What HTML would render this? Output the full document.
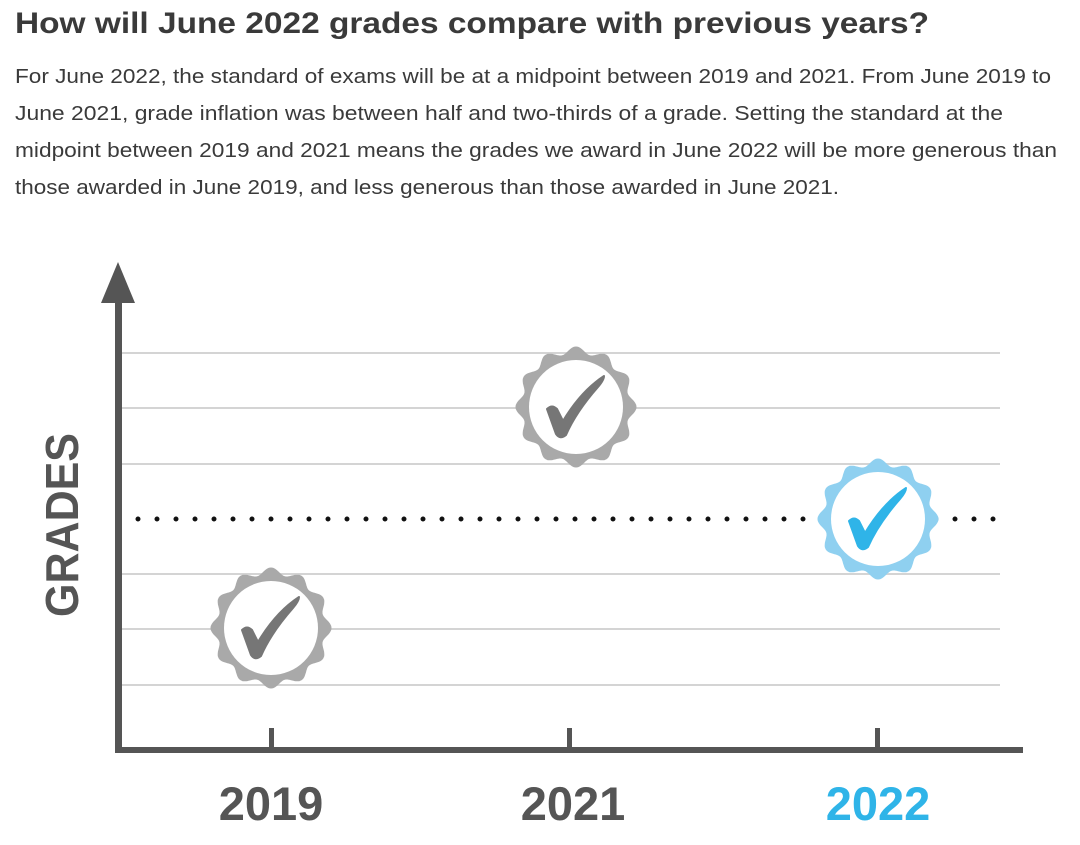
<!DOCTYPE html>
<html><head><meta charset="utf-8"><style>
html,body{margin:0;padding:0;background:#fff;width:1080px;height:845px;overflow:hidden}
svg{display:block}
</style></head><body>
<svg id="s" width="1080" height="845" xmlns="http://www.w3.org/2000/svg" font-family="Liberation Sans, sans-serif">
<text x="15" y="33" font-size="30" font-weight="bold" fill="#3a3a3a" textLength="914" lengthAdjust="spacingAndGlyphs">How will June 2022 grades compare with previous years?</text>
<g font-size="20" fill="#3a3a3a">
<text x="15" y="83" textLength="1036" lengthAdjust="spacingAndGlyphs">For June 2022, the standard of exams will be at a midpoint between 2019 and 2021. From June 2019 to</text>
<text x="15" y="120" textLength="988" lengthAdjust="spacingAndGlyphs">June 2021, grade inflation was between half and two-thirds of a grade. Setting the standard at the</text>
<text x="15" y="157" textLength="1042" lengthAdjust="spacingAndGlyphs">midpoint between 2019 and 2021 means the grades we award in June 2022 will be more generous than</text>
<text x="15" y="194" textLength="824" lengthAdjust="spacingAndGlyphs">those awarded in June 2019, and less generous than those awarded in June 2021.</text>
</g>
<g stroke="#d4d4d4" stroke-width="2">
<line x1="120" y1="353" x2="1000" y2="353"/><line x1="120" y1="408" x2="1000" y2="408"/>
<line x1="120" y1="464" x2="1000" y2="464"/><line x1="120" y1="574" x2="1000" y2="574"/>
<line x1="120" y1="629" x2="1000" y2="629"/><line x1="120" y1="685" x2="1000" y2="685"/>
</g>
<line x1="138" y1="519" x2="1000" y2="519" stroke="#111" stroke-width="5" stroke-linecap="round" stroke-dasharray="0 19"/>
<g fill="#555">
<rect x="115" y="295" width="7" height="458"/>
<polygon points="118,262 101,303 135,303"/>
<rect x="115" y="747" width="908" height="6"/>
<rect x="269" y="728" width="5" height="22"/>
<rect x="567" y="728" width="5" height="22"/>
<rect x="875" y="728" width="5" height="22"/>
</g>
<g id="badges"></g>
<text transform="translate(78,525) rotate(-90)" text-anchor="middle" font-size="46" font-weight="bold" fill="#555" textLength="184" lengthAdjust="spacingAndGlyphs">GRADES</text>
<g font-size="47" font-weight="bold" text-anchor="middle">
<text x="271" y="820" fill="#555">2019</text>
<text x="573" y="820" fill="#555">2021</text>
<text x="878" y="820" fill="#2fb4e8">2022</text>
</g>
</svg>
<script>
function badge(cx,cy,outer,check){
  let d="";
  for(let i=0;i<=360;i++){const t=i*Math.PI/180;const r=57+3.5*Math.cos(12*t);
    d+=(i?"L":"M")+(cx+r*Math.sin(t)).toFixed(1)+","+(cy-r*Math.cos(t)).toFixed(1);}
  const ns="http://www.w3.org/2000/svg";
  const g=document.getElementById("badges");
  const p=document.createElementNS(ns,"path");p.setAttribute("d",d+"Z");p.setAttribute("fill",outer);g.appendChild(p);
  const c=document.createElementNS(ns,"circle");c.setAttribute("cx",cx);c.setAttribute("cy",cy);c.setAttribute("r",47);c.setAttribute("fill","#fff");g.appendChild(c);
  const k=document.createElementNS(ns,"path");
  k.setAttribute("d",`M${cx-29},${cy+2} Q${cx-24},${cy-3} ${cx-19},${cy+2} L${cx-13},${cy+14} Q${cx+5},${cy-16} ${cx+28},${cy-31} Q${cx+28},${cy-27} ${cx+22},${cy-20} Q${cx},${cy+5} ${cx-10},${cy+28} Q${cx-16},${cy+33} ${cx-20},${cy+27} Z`);
  k.setAttribute("fill",check);k.setAttribute("stroke",check);k.setAttribute("stroke-width",2);
  k.setAttribute("stroke-linejoin","round");g.appendChild(k);
}
badge(271,628,"#a9a9a9","#767676");
badge(576,407,"#a9a9a9","#767676");
badge(878,519,"#8fd0f0","#2fb4e8");
</script>
</body></html>
